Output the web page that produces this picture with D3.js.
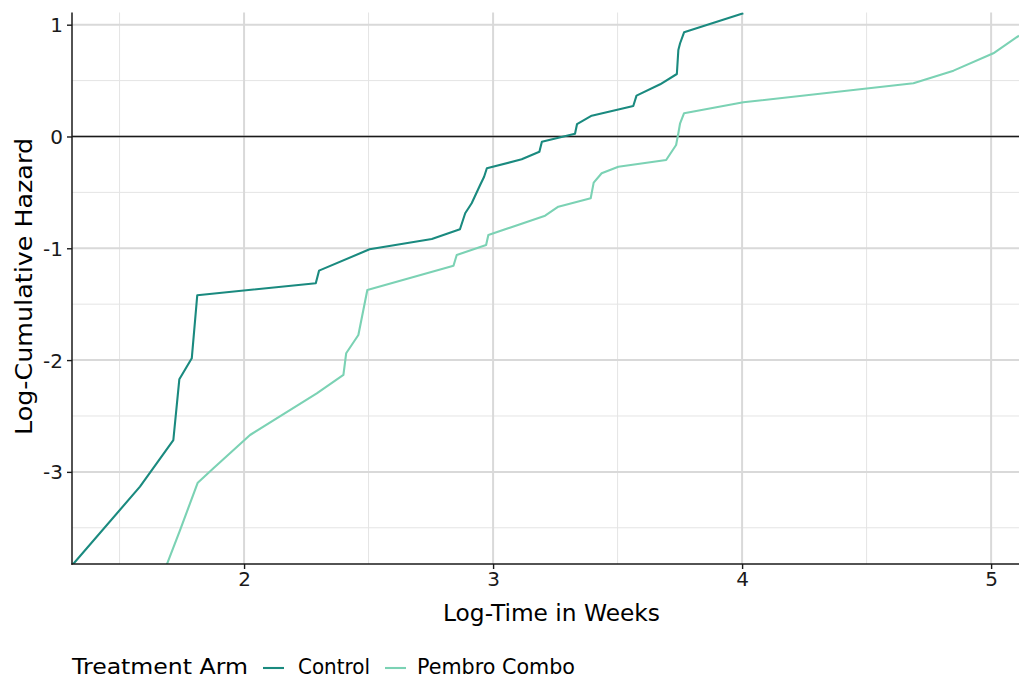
<!DOCTYPE html>
<html>
<head>
<meta charset="utf-8">
<script src="https://cdn.jsdelivr.net/npm/d3@7"></script>
<style>
  html, body { margin: 0; padding: 0; background: #ffffff; }
  svg { display: block; font-family: "DejaVu Sans", sans-serif; }
</style>
</head>
<body>
<svg id="chart" width="1019" height="679"></svg>
<script>
// Log-cumulative hazard vs log-time, one step path per treatment arm
const controlLogTime = [1.309, 1.582, 1.716, 1.740, 1.790, 1.812, 2.288, 2.301, 2.504, 2.754,
  2.867, 2.888, 2.914, 2.948, 2.964, 2.975, 3.115, 3.186, 3.196, 3.329,
  3.337, 3.396, 3.563, 3.576, 3.671, 3.738, 3.744, 3.751, 3.767, 4.005];
const controlLogHaz = [-3.837, -3.132, -2.715, -2.172, -1.984, -1.420, -1.313, -1.200, -1.009, -0.917,
  -0.830, -0.687, -0.597, -0.434, -0.360, -0.284, -0.204, -0.136, -0.047, 0.025,
  0.110, 0.186, 0.273, 0.365, 0.467, 0.559, 0.774, 0.834, 0.932, 1.102];

const pembroLogTime = [1.689, 1.743, 1.814, 1.877, 2.024, 2.292, 2.399, 2.410, 2.459, 2.495,
  2.841, 2.854, 2.972, 2.981, 3.209, 3.262, 3.392, 3.404, 3.436, 3.503,
  3.695, 3.735, 3.744, 3.751, 3.767, 4.005, 4.688, 4.849, 5.009, 5.112];
const pembroLogHaz = [-3.833, -3.520, -3.097, -2.968, -2.670, -2.297, -2.133, -1.939, -1.776, -1.373,
  -1.156, -1.060, -0.970, -0.881, -0.708, -0.628, -0.553, -0.413, -0.329, -0.270,
  -0.210, -0.076, 0.029, 0.118, 0.208, 0.306, 0.476, 0.589, 0.744, 0.902];

const armNames = ["Control", "Pembro Combo"];
const armColors = ["#1a8a7f", "#7bd2b4"];

const xMajorTicks = [2, 3, 4, 5];
const xMinorTicks = [1.5, 2.5, 3.5, 4.5];
const yMajorTicks = [1, 0, -1, -2, -3];
const yMinorTicks = [0.5, -0.5, -1.5, -2.5, -3.5];
const tickLabel = d => String(d);   // plain hyphen for negatives

const xDomain = [1.309, 5.112];
const yDomain = [-3.824, 1.109];

const svg = d3.select("#chart");
const panel = { left: 72, top: 12.5, right: 1019, bottom: 564 };

const x = d3.scaleLinear().domain(xDomain).range([panel.left, panel.right]);
const y = d3.scaleLinear().domain(yDomain).range([panel.bottom, panel.top]);

// grid
const grid = svg.append("g");
grid.selectAll(".xminor").data(xMinorTicks).join("line")
  .attr("x1", d => x(d)).attr("x2", d => x(d))
  .attr("y1", panel.top).attr("y2", panel.bottom)
  .attr("stroke", "#e4e4e4").attr("stroke-width", 1);
grid.selectAll(".yminor").data(yMinorTicks.filter(v => v > yDomain[0])).join("line")
  .attr("x1", panel.left).attr("x2", panel.right)
  .attr("y1", d => y(d)).attr("y2", d => y(d))
  .attr("stroke", "#e4e4e4").attr("stroke-width", 1);
grid.selectAll(".xmajor").data(xMajorTicks).join("line")
  .attr("x1", d => x(d)).attr("x2", d => x(d))
  .attr("y1", panel.top).attr("y2", panel.bottom)
  .attr("stroke", "#d9d9d9").attr("stroke-width", 2);
grid.selectAll(".ymajor").data(yMajorTicks).join("line")
  .attr("x1", panel.left).attr("x2", panel.right)
  .attr("y1", d => y(d)).attr("y2", d => y(d))
  .attr("stroke", "#d9d9d9").attr("stroke-width", 2);

// reference line at zero
svg.append("line")
  .attr("x1", panel.left).attr("x2", panel.right)
  .attr("y1", y(0)).attr("y2", y(0))
  .attr("stroke", "#1a1a1a").attr("stroke-width", 1.6);

// curves
svg.append("clipPath").attr("id", "panelClip")
  .append("rect")
  .attr("x", panel.left).attr("y", panel.top)
  .attr("width", panel.right - panel.left).attr("height", panel.bottom - panel.top);

const series = [
  d3.zip(controlLogTime, controlLogHaz),
  d3.zip(pembroLogTime, pembroLogHaz)
];
const line = d3.line().x(d => x(d[0])).y(d => y(d[1]));
svg.append("g").attr("clip-path", "url(#panelClip)")
  .selectAll("path").data(series).join("path")
  .attr("d", line)
  .attr("fill", "none")
  .attr("stroke", (d, i) => armColors[i])
  .attr("stroke-width", 2.1)
  .attr("stroke-linejoin", "round");

// axes
const xAxis = d3.axisBottom(x).tickValues(xMajorTicks).tickFormat(tickLabel)
  .tickSize(5).tickPadding(3);
const yAxis = d3.axisLeft(y).tickValues(yMajorTicks).tickFormat(tickLabel)
  .tickSize(5).tickPadding(4);

const gx = svg.append("g").attr("transform", `translate(0,${panel.bottom})`).call(xAxis);
const gy = svg.append("g").attr("transform", `translate(${panel.left},0)`).call(yAxis);
[gx, gy].forEach(g => {
  g.select(".domain").remove();
  g.selectAll(".tick line").attr("stroke", "#1a1a1a").attr("stroke-width", 1.4);
  g.selectAll(".tick text").attr("fill", "#1a1a1a")
    .style("font-family", "'DejaVu Sans', sans-serif").style("font-size", "20px");
});
gy.selectAll(".tick text").attr("dy", "0.35em");

svg.append("line").attr("x1", panel.left).attr("x2", panel.left)
  .attr("y1", panel.top).attr("y2", panel.bottom + 0.7)
  .attr("stroke", "#1a1a1a").attr("stroke-width", 1.5);
svg.append("line").attr("x1", panel.left - 0.7).attr("x2", panel.right)
  .attr("y1", panel.bottom).attr("y2", panel.bottom)
  .attr("stroke", "#1a1a1a").attr("stroke-width", 1.5);

// axis titles
svg.append("text")
  .attr("x", 551.5).attr("y", 621)
  .attr("text-anchor", "middle")
  .attr("textLength", 217).attr("lengthAdjust", "spacingAndGlyphs")
  .style("font-size", "22.5px").attr("fill", "#000")
  .text("Log-Time in Weeks");

svg.append("text")
  .attr("transform", `translate(32,${(138 + 435) / 2}) rotate(-90)`)
  .attr("text-anchor", "middle")
  .attr("textLength", 297).attr("lengthAdjust", "spacingAndGlyphs")
  .style("font-size", "23px").attr("fill", "#000")
  .text("Log-Cumulative Hazard");

// legend
const legendY = 668;
svg.append("text")
  .attr("x", 72).attr("y", 674)
  .attr("textLength", 176).attr("lengthAdjust", "spacingAndGlyphs")
  .style("font-size", "21.5px").attr("fill", "#000")
  .text("Treatment Arm");

const keyX = [263, 385];
const labelX = [298, 417];
const labelW = [72, 158];
armNames.forEach((name, i) => {
  svg.append("line")
    .attr("x1", keyX[i]).attr("x2", keyX[i] + 21)
    .attr("y1", legendY).attr("y2", legendY)
    .attr("stroke", armColors[i]).attr("stroke-width", 2.1);
  svg.append("text")
    .attr("x", labelX[i]).attr("y", 674)
    .attr("textLength", labelW[i]).attr("lengthAdjust", "spacingAndGlyphs")
    .style("font-size", "20.5px").attr("fill", "#000")
    .text(name);
});
</script>
</body>
</html>
